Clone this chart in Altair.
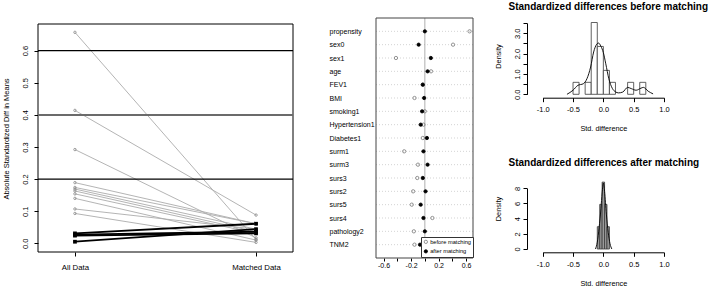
import altair as alt
import pandas as pd

FONT = "Liberation Sans"

# ---------------- Panel 1: absolute standardized difference in means ----------------
stage_labels = ["All Data", "Matched Data"]
all_data = [0.657, 0.414, 0.292, 0.189, 0.174, 0.169, 0.163, 0.154, 0.140, 0.107, 0.093,
            0.031, 0.027, 0.024, 0.005]
matched_data = [0.012, 0.088, 0.017, 0.061, 0.061, 0.044, 0.036, 0.031, 0.010, 0.044, 0.003,
                0.061, 0.036, 0.031, 0.044]
ref_black = [0.2, 0.6]
ref_gray = [0.4]
y_ticks_1 = [0.0, 0.1, 0.2, 0.3, 0.4, 0.5, 0.6]
x_dom_1 = [-0.204, 1.204]
y_dom_1 = [-0.027, 0.683]

# ---------------- Panel 2: love plot ----------------
variables = ["propensity", "sex0", "sex1", "age", "FEV1", "BMI", "smoking1", "Hypertension1",
             "Diabetes1", "surm1", "surm3", "surs3", "surs2", "surs5", "surs4", "pathology2", "TNM2"]
before = [0.65, 0.41, -0.42, 0.09, -0.03, -0.15, 0.00, -0.02, -0.03, -0.30, -0.10, -0.11,
          -0.17, -0.19, 0.11, -0.16, -0.15]
after = [0.00, -0.09, 0.087, 0.04, -0.03, -0.01, -0.04, -0.06, 0.03, -0.02, 0.04, -0.03,
         0.01, -0.06, -0.02, 0.00, -0.07]
groups = ["before matching", "after matching"]
x_ticks_2 = [-0.6, -0.4, -0.2, 0.0, 0.2, 0.4, 0.6]
x_dom_2 = [-0.71, 0.70]
zero_line = [0.0]

# ---------------- Panel 3: histogram before matching ----------------
hist_before_start = [-0.5, -0.3, -0.2, -0.1, 0.0, 0.1, 0.4, 0.6]
hist_before_end = [-0.4, -0.2, -0.1, 0.0, 0.1, 0.2, 0.5, 0.7]
hist_before_dens = [0.588, 0.588, 3.529, 2.353, 1.176, 0.588, 0.588, 0.588]
kde_before_x = [-0.60, -0.50, -0.42, -0.33, -0.27, -0.21, -0.16, -0.11, -0.08, -0.04, 0.00, 0.04,
                0.09, 0.15, 0.20, 0.25, 0.32, 0.40, 0.46, 0.54, 0.62, 0.66, 0.74, 0.82]
kde_before_y = [0.0, 0.2, 0.44, 0.52, 0.77, 1.34, 2.08, 2.46, 2.52, 2.36, 2.05, 1.5,
                0.77, 0.28, 0.12, 0.07, 0.11, 0.34, 0.28, 0.2, 0.3, 0.34, 0.15, 0.02]
y_ticks_3 = [0.0, 0.5, 1.0, 1.5, 2.0, 2.5, 3.0, 3.5]

# ---------------- Panel 4: histogram after matching ----------------
hist_after_start = [-0.10, -0.06, -0.02, 0.02, 0.06]
hist_after_end = [-0.06, -0.02, 0.02, 0.06, 0.10]
hist_after_dens = [2.94, 5.88, 8.82, 5.88, 2.94]
kde_after_x = [-0.13, -0.10, -0.07, -0.04, -0.02, 0.0, 0.02, 0.05, 0.08, 0.11, 0.14]
kde_after_y = [0.0, 0.9, 2.8, 5.3, 7.4, 8.7, 7.6, 4.6, 2.2, 0.7, 0.0]
y_ticks_4 = [0, 2, 4, 6, 8]
hist_x_ticks = [-1.0, -0.5, 0.0, 0.5, 1.0]
hist_x_dom = [-1.0, 1.0]

W, H = 708, 292

# ======================= Panel 1 =======================
rows = []
for i, (a, m) in enumerate(zip(all_data, matched_data)):
    grp = "down" if m < a else "up"
    rows.append({"id": i, "stage": 0, "val": a, "grp": grp})
    rows.append({"id": i, "stage": 1, "val": m, "grp": grp})
df1 = pd.DataFrame(rows)

xs1 = alt.Scale(domain=x_dom_1, range=[38, 293], nice=False, zero=False)
ys1 = alt.Scale(domain=y_dom_1, range=[252, 24], nice=False, zero=False)

x1_axis = alt.Axis(orient="bottom", offset=252 - H, values=[0, 1], title=None, domain=False,
                   grid=False, tickSize=4, labelPadding=7, labelFontSize=7.8, labelFlush=False,
                   labelOverlap=False,
                   labelExpr="datum.value == 0 ? '%s' : '%s'" % tuple(stage_labels))
y1_axis = alt.Axis(orient="left", offset=-38, values=y_ticks_1, format=".1f", labelAngle=270,
                   labelAlign="center", labelBaseline="bottom", tickSize=4, labelPadding=4.7,
                   domain=False, grid=False, labelFontSize=7.5, labelFlush=False, labelOverlap=False,
                   title="Absolute Standardized Diff in Means", titleFontSize=7.5,
                   titleAngle=270, titleX=6.7 - 38, titleY=138.5, titleAlign="center",
                   titleBaseline="middle")

base1 = alt.Chart(df1)
lines_down = base1.transform_filter("datum.grp == 'down'").mark_line(
    color="#ababab", strokeWidth=0.9).encode(
    x=alt.X("stage:Q", scale=xs1, axis=x1_axis), y=alt.Y("val:Q", scale=ys1, axis=y1_axis),
    detail="id:N")
box1 = alt.Chart(pd.DataFrame({"a": [0]})).mark_rect(
    fillOpacity=0, stroke="black", strokeWidth=1).encode(
    x=alt.X(datum=x_dom_1[0], scale=xs1), x2=alt.datum(x_dom_1[1]),
    y=alt.Y(datum=y_dom_1[0], scale=ys1), y2=alt.datum(y_dom_1[1]))
rules_b = alt.Chart(pd.DataFrame({"y": ref_black})).mark_rule(color="black", strokeWidth=1.1).encode(
    y=alt.Y("y:Q", scale=ys1), x=alt.datum(x_dom_1[0]), x2=alt.datum(x_dom_1[1]))
rules_g = alt.Chart(pd.DataFrame({"y": ref_gray})).mark_rule(color="#6b6b6b", strokeWidth=2).encode(
    y=alt.Y("y:Q", scale=ys1), x=alt.datum(x_dom_1[0]), x2=alt.datum(x_dom_1[1]))
lines_up = base1.transform_filter("datum.grp == 'up'").mark_line(
    color="black", strokeWidth=1.8).encode(
    x=alt.X("stage:Q", scale=xs1), y=alt.Y("val:Q", scale=ys1), detail="id:N")
pts_down = base1.transform_filter("datum.grp == 'down'").mark_point(
    shape="circle", filled=False, color="#8a8a8a", size=6, strokeWidth=0.8, opacity=1).encode(
    x=alt.X("stage:Q", scale=xs1), y=alt.Y("val:Q", scale=ys1))
pts_up = base1.transform_filter("datum.grp == 'up'").mark_point(
    shape="square", filled=True, color="black", size=14, opacity=1).encode(
    x=alt.X("stage:Q", scale=xs1), y=alt.Y("val:Q", scale=ys1))
p1 = alt.layer(lines_down, box1, rules_b, rules_g, lines_up, pts_down, pts_up)

# ======================= Panel 2 =======================
rows2 = []
for v, b, a in zip(variables, before, after):
    rows2.append({"var": v, "grp": groups[0], "val": b})
    rows2.append({"var": v, "grp": groups[1], "val": a})
df2 = pd.DataFrame(rows2)
df2_rows = pd.DataFrame({"var": variables})

xs2 = alt.Scale(domain=x_dom_2, range=[376, 473], nice=False, zero=False)
ys2n = alt.Scale(type="point", domain=variables, range=[18, 258], padding=1)
ys2q = alt.Scale(domain=[0, 1], range=[258, 18], nice=False, zero=False)

x2_axis = alt.Axis(orient="bottom", offset=258 - H, values=x_ticks_2, title=None, domain=False,
                   grid=False, tickSize=3, labelPadding=0, labelFontSize=7, labelFlush=False,
                   labelOverlap=False,
                   labelExpr="abs(round(datum.value*10)) % 4 == 2 ? replace(format(datum.value, '.1f'), '\u2212', '-') : ''")
y2_axis = alt.Axis(orient="left", offset=-376, title=None, domain=False, ticks=False, tickSize=0,
                   labelAlign="left", labelBaseline="middle", labelPadding=47, labelFontSize=7,
                   grid=False, labelOverlap=False, labelLimit=200)

legend2 = alt.Legend(title=None, orient="none", legendX=421, legendY=237, padding=2,
                     strokeColor="#333", fillColor="white", labelFontSize=5.7, symbolSize=11,
                     rowPadding=1.5, symbolStrokeWidth=0.8, labelOffset=1.5, cornerRadius=0,
                     labelLimit=200)

pts2 = alt.Chart(df2).mark_point(shape="circle", filled=True, size=11, strokeWidth=0.8, opacity=1).encode(
    x=alt.X("val:Q", scale=xs2, axis=x2_axis),
    y=alt.Y("var:N", sort=variables, scale=ys2n, axis=y2_axis),
    fill=alt.Fill("grp:N", scale=alt.Scale(domain=groups, range=["transparent", "black"]), legend=legend2),
    stroke=alt.Stroke("grp:N", scale=alt.Scale(domain=groups, range=["#7a7a7a", "black"]), legend=legend2),
)
grid2 = alt.Chart(df2_rows).mark_rule(color="#c8c8c8", strokeWidth=0.8, strokeDash=[1, 2]).encode(
    y=alt.Y("var:N", sort=variables, scale=ys2n, axis=None),
    x=alt.datum(x_dom_2[0]), x2=alt.datum(x_dom_2[1]))
box2 = alt.Chart(pd.DataFrame({"a": [0]})).mark_rect(
    fillOpacity=0, stroke="#444", strokeWidth=1).encode(
    x=alt.X(datum=x_dom_2[0], scale=xs2), x2=alt.datum(x_dom_2[1]),
    y=alt.Y(datum=0, scale=ys2q, axis=None), y2=alt.datum(1))
zero2 = alt.Chart(pd.DataFrame({"z": zero_line})).mark_rule(color="#9a9a9a", strokeWidth=0.8).encode(
    x=alt.X("z:Q", scale=xs2), y=alt.Y(datum=0, scale=ys2q, axis=None), y2=alt.datum(1))
p2 = alt.layer(grid2, zero2, box2, pts2).resolve_scale(y="independent")


# ======================= Panels 3 & 4 =======================
def hist_panel(starts, ends, dens, kx, ky, ydom, yrange, yticks, ylabel_expr, title,
               axis_y, title_y, density_y, fill):
    xs = alt.Scale(domain=hist_x_dom, range=[542.7, 664], nice=False, zero=False)
    ys = alt.Scale(domain=ydom, range=yrange, nice=False)
    xaxis = alt.Axis(orient="bottom", offset=axis_y - H, values=hist_x_ticks, title="Std. difference",
                     grid=False, tickSize=4, labelPadding=3.8, labelFontSize=7.5, titleFontSize=7.3,
                     titleY=31, titleBaseline="middle", titleFontWeight="normal",
                     labelFlush=False, labelOverlap=False,
                     labelExpr="replace(format(datum.value, '.1f'), '\u2212', '-')")
    yaxis = alt.Axis(orient="left", offset=-527, values=yticks, title="Density", grid=False,
                     tickSize=4, labelAngle=270, labelAlign="center", labelBaseline="bottom",
                     labelPadding=2, labelFontSize=7.5, titleFontSize=7.3, titleAngle=270,
                     titleX=498.5 - 527, titleY=density_y, titleAlign="center", titleBaseline="middle",
                     labelFlush=False, labelOverlap=False, labelExpr=ylabel_expr)
    taxis = alt.Axis(orient="top", offset=0, title=title, labels=False, ticks=False, domain=False,
                     grid=False, titleX=508, titleY=title_y, titleAlign="left", titleBaseline="middle",
                     titleAngle=0, titleFontSize=10, titleFontWeight="bold")
    bars = alt.Chart(pd.DataFrame({"s": starts, "e": ends, "d": dens})).mark_rect(
        fill=fill, stroke="#3a3a3a", strokeWidth=0.8).encode(
        x=alt.X("s:Q", scale=xs, axis=xaxis), x2="e:Q",
        y=alt.Y("d:Q", scale=ys, axis=yaxis), y2=alt.datum(0))
    curve = alt.Chart(pd.DataFrame({"x": kx, "y": ky})).mark_line(
        color="black", strokeWidth=0.9, interpolate="monotone").encode(
        x=alt.X("x:Q", scale=xs, axis=None), y=alt.Y("y:Q", scale=ys))
    tlayer = alt.Chart(pd.DataFrame({"t": [0.0]})).mark_point(opacity=0).encode(
        x=alt.X("t:Q", scale=xs, axis=taxis))
    return alt.layer(bars, curve, tlayer).resolve_axis(x="independent")


p3 = hist_panel(hist_before_start, hist_before_end, hist_before_dens, kde_before_x, kde_before_y,
                [0, 3.5], [94.3, 23.1], y_ticks_3,
                "datum.value % 1 == 0 ? format(datum.value, '.1f') : ''",
                "Standardized differences before matching", 97.7, 6.7, 56, "white")
p4 = hist_panel(hist_after_start, hist_after_end, hist_after_dens, kde_after_x, kde_after_y,
                [0, 8], [249, 188.3], y_ticks_4, "format(datum.value, 'd')",
                "Standardized differences after matching", 252.3, 162.3, 208.5, "#9a9a9a")

chart = alt.layer(p1, p2, p3, p4).resolve_scale(
    x="independent", y="independent"
).properties(
    width=W, height=H, autosize=alt.AutoSizeParams(type="none"), padding=0
).configure(font=FONT).configure_axis(
    labelColor="black", titleColor="black", tickColor="black", domainColor="black",
    titleFontWeight="normal", labelFont=FONT, titleFont=FONT, tickWidth=1, domainWidth=1
).configure_view(stroke="transparent")

chart.save("out.html", embed_options={"renderer": "svg", "actions": False})
